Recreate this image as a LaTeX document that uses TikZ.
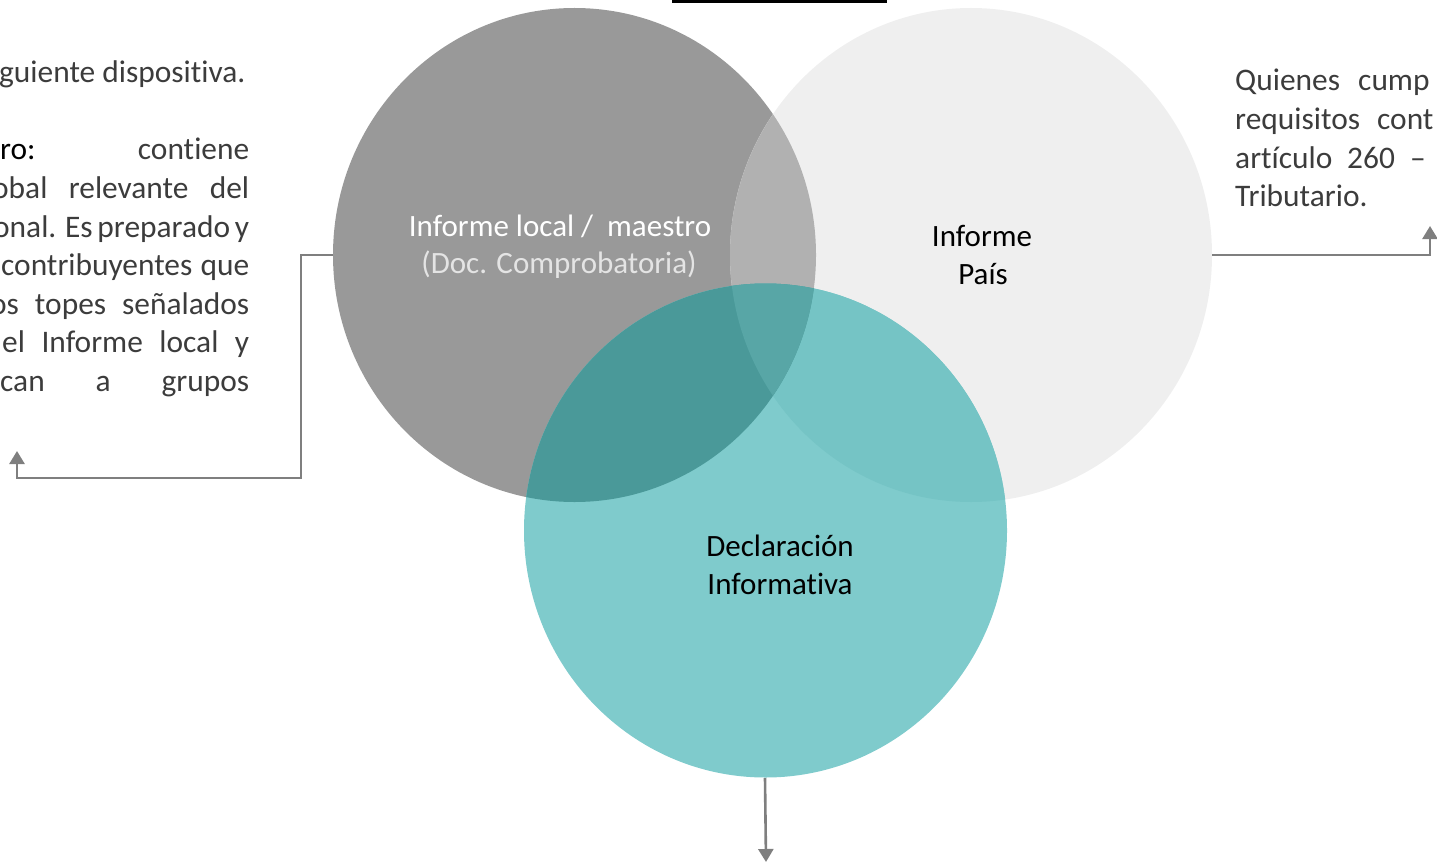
\documentclass[tikz,border=0pt]{standalone}
\usepackage{fontspec}
\setmainfont{Carlito}[Ligatures=NoCommon]
\usetikzlibrary{arrows.meta}
\definecolor{cdark}{RGB}{153,153,153}
\definecolor{clight}{RGB}{239,239,239}
\definecolor{cteal}{RGB}{127,203,204}
\definecolor{cdl}{RGB}{177,177,177}
\definecolor{cdt}{RGB}{74,153,153}
\definecolor{clt}{RGB}{117,196,197}
\definecolor{cdlt}{RGB}{88,166,166}
\definecolor{cline}{RGB}{127,127,127}
\definecolor{ctext}{RGB}{60,60,60}
\definecolor{csub}{RGB}{228,228,228}
\begin{document}
\begin{tikzpicture}[x=1pt,y=-1pt,
  conn/.style={draw=cline, line width=2.6pt, -{Triangle[width=15pt,length=13pt]}},
  side/.style={font=\fontsize{31.4}{38.5}\selectfont, text=ctext, inner sep=0pt, anchor=base west},
  lab/.style={font=\fontsize{31}{38}\selectfont, inner sep=0pt, anchor=base}]
\useasboundingbox (0,0) rectangle (1437,864);
\clip (0,0) rectangle (1437,864);
% circles
\def\dk{(574.5,255) ellipse [x radius=241.5, y radius=247]}
\def\lt{(971,255) ellipse [x radius=241, y radius=247]}
\def\tl{(765.5,530.5) ellipse [x radius=241.5, y radius=247]}
\fill[cdark] \dk;
\fill[clight] \lt;
\fill[cteal] \tl;
\begin{scope}\clip \dk; \fill[cdl] \lt; \end{scope}
\begin{scope}\clip \lt; \fill[clt] \tl; \end{scope}
\begin{scope}\clip \dk; \fill[cdt] \tl; \end{scope}
\begin{scope}\clip \dk; \clip \lt; \fill[cdlt] \tl; \end{scope}
% named anchors of the circles
\coordinate (dkW) at (333,255);
\coordinate (ltE) at (1212,255);
\coordinate (tlS) at (765,778);
\coordinate (l1) at (301,255);
\coordinate (l2) at (301,478);
\coordinate (l3) at (17,478);
\coordinate (l4) at (17,451);
\coordinate (r1) at (1430,255);
\coordinate (r2) at (1430,226);
\coordinate (b1) at (766,862);
% top bar
\fill[black] (672,0) rectangle (887,3);
% labels in circles
\node[lab, text=white] (dk1) at (560,236) {Informe local /\ \ maestro};
\node[lab, text=csub] (dk2) at (559,273) {(Doc. Comprobatoria)};
\node[lab, text=black] (lt1) at (982,246) {Informe};
\node[lab, text=black] (lt2) at (983,284) {País};
\node[lab, text=black] (tl1) at (780,556) {Declaración};
\node[lab, text=black] (tl2) at (780,594) {Informativa};
% connectors
\draw[conn] (dkW) -- (l1) -- (l2) -- (l3) -- (l4);
\draw[conn] (ltE) -- (r1) -- (r2);
\draw[conn] (tlS) -- (b1);
% left text
\node[side] (a0) at (-1,83) {guiente dispositiva.};
\node[side] (a1) at (0,160) {\makebox[249pt][s]{{\color{black}ro:} contiene}};
\node[side] (a2) at (-8,198.5) {\makebox[257pt][s]{obal relevante del}};
\node[side] (a3) at (-7,237) {\makebox[256pt][s]{onal. Es preparado y}};
\node[side] (a4) at (1,275.5) {\makebox[248pt][s]{contribuyentes que}};
\node[side] (a5) at (-10,314) {\makebox[259pt][s]{os topes señalados}};
\node[side] (a6) at (2,352.5) {\makebox[247pt][s]{el Informe local y}};
\node[side] (a7) at (0,391) {\makebox[249pt][s]{can a grupos}};
% right text
\node[side] (q1) at (1235,91) {Quienes};
\node[side] (q2) at (1358,91) {cump};
\node[side] (q3) at (1235,129.5) {requisitos};
\node[side] (q4) at (1377,129.5) {cont};
\node[side] (q5) at (1235,168) {artículo};
\node[side] (q6) at (1347,168) {260};
\node[side] (q7) at (1410,168) {–};
\node[side] (q8) at (1235,206.5) {Tributario.};
\end{tikzpicture}
\end{document}
